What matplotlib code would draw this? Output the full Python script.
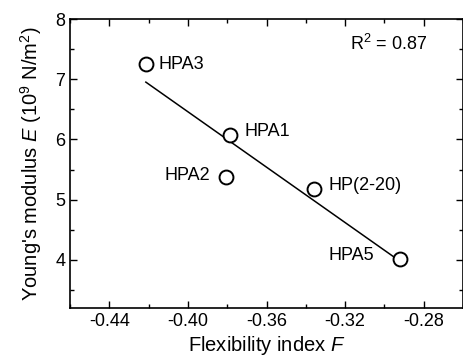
import numpy as np
import matplotlib
matplotlib.use("Agg")
import matplotlib.pyplot as plt
from matplotlib.ticker import MultipleLocator

plt.rcParams['font.family'] = ['Liberation Sans', 'DejaVu Sans']
plt.rcParams['mathtext.fontset'] = 'custom'
plt.rcParams['mathtext.rm'] = 'Liberation Sans'
plt.rcParams['mathtext.it'] = 'Liberation Sans:italic'

names = ["HPA3", "HPA1", "HPA2", "HP(2-20)", "HPA5"]
flex = [-0.4214, -0.3784, -0.3804, -0.3357, -0.2923]
modulus = [7.245, 6.07, 5.38, 5.17, 4.02]

fig = plt.figure(figsize=(4.64, 3.63), dpi=100)
ax = fig.add_axes([70/464, 55/363, 393/464, 289/363])

# linear fit across the data range
k, b = np.polyfit(flex, modulus, 1)
xf = np.array([min(flex), max(flex)])
ax.plot(xf, k*xf + b, color='k', lw=1.1)

ax.plot(flex, modulus, linestyle='', marker='o', markersize=10,
        markerfacecolor='white', markeredgecolor='k', markeredgewidth=1.4)

fs = 13
ax.annotate("HPA3", (flex[0], modulus[0]), xytext=(9, 0), textcoords='offset points', ha='left', va='center', fontsize=fs)
ax.annotate("HPA1", (flex[1], modulus[1]), xytext=(10, 3), textcoords='offset points', ha='left', va='center', fontsize=fs)
ax.annotate("HPA2", (flex[2], modulus[2]), xytext=(-12, 1), textcoords='offset points', ha='right', va='center', fontsize=fs)
ax.annotate("HP(2-20)", (flex[3], modulus[3]), xytext=(10, 3), textcoords='offset points', ha='left', va='center', fontsize=fs)
ax.annotate("HPA5", (flex[4], modulus[4]), xytext=(-18, 2), textcoords='offset points', ha='right', va='center', fontsize=fs)

ax.text(0.91, 0.915, "R$^2$ = 0.87", transform=ax.transAxes, ha='right', va='center', fontsize=fs)

ax.set_xlim(-0.46, -0.26)
ax.set_ylim(3.2, 8)
ax.xaxis.set_minor_locator(MultipleLocator(0.02))
ax.yaxis.set_minor_locator(MultipleLocator(0.5))
ax.set_xticks([-0.44, -0.40, -0.36, -0.32, -0.28])
ax.set_xticklabels(["-0.44", "-0.40", "-0.36", "-0.32", "-0.28"])
ax.set_yticks([4, 5, 6, 7, 8])
ax.tick_params(which='both', direction='in', top=True, right=True, labelsize=fs, width=1)
ax.tick_params(which='major', length=5)
ax.tick_params(which='minor', length=3)
for s in ax.spines.values():
    s.set_linewidth(1.2)

ax.set_xlabel("Flexibility index $\\mathit{F}$", fontsize=14.5, labelpad=3)
ax.set_ylabel("Young's modulus $\\mathit{E}$ (10$^9$ N/m$^2$)", fontsize=14.5, labelpad=8)

fig.savefig("out.png", dpi=100)
